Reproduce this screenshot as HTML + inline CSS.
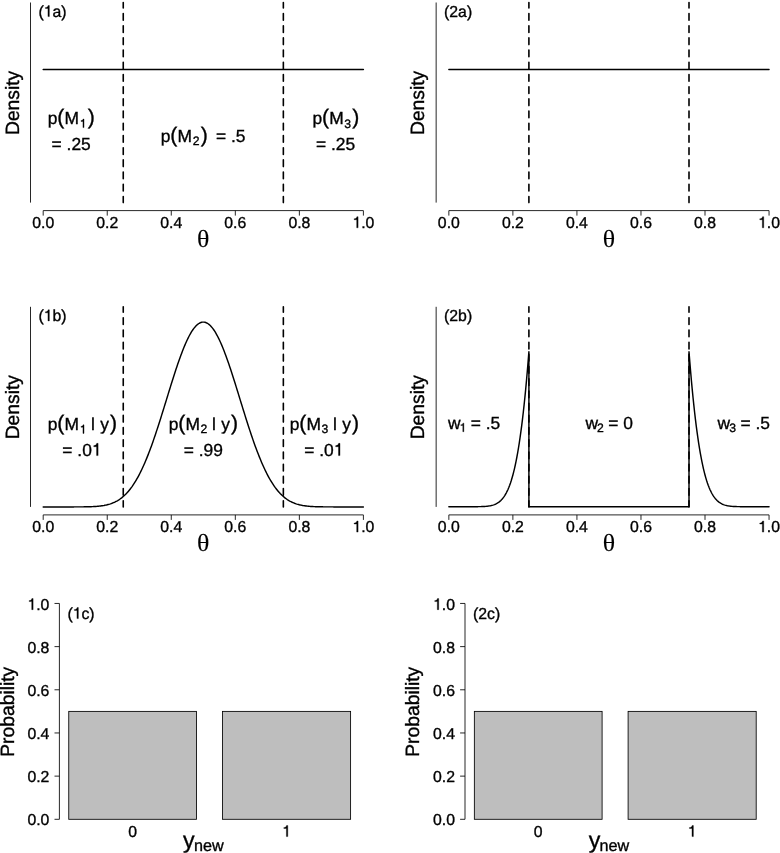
<!DOCTYPE html>
<html><head><meta charset="utf-8"><style>
html,body{margin:0;padding:0;background:#fff;overflow:hidden;}
svg{display:block;will-change:transform;}
text{font-family:"Liberation Sans",sans-serif;fill:#000;stroke:#000;stroke-width:0.35px;text-rendering:geometricPrecision;font-kerning:none;}
text.serif{font-family:"Liberation Serif",serif;stroke-width:0.15px;}
</style></head><body>
<svg width="780" height="853" viewBox="0 0 780 853">
<path d="M30.50,2.50L30.50,202.60" stroke="#000" stroke-width="0.85" fill="none"/>
<path d="M43.20,210.60L363.40,210.60" stroke="#000" stroke-width="0.85" fill="none"/>
<path d="M43.20,210.60L43.20,215.60" stroke="#000" stroke-width="0.85" fill="none"/>
<text x="32.22" y="227.80" font-size="15.8" xml:space="preserve">0.0</text>
<path d="M107.24,210.60L107.24,215.60" stroke="#000" stroke-width="0.85" fill="none"/>
<text x="96.26" y="227.80" font-size="15.8" xml:space="preserve">0.2</text>
<path d="M171.28,210.60L171.28,215.60" stroke="#000" stroke-width="0.85" fill="none"/>
<text x="160.30" y="227.80" font-size="15.8" xml:space="preserve">0.4</text>
<path d="M235.32,210.60L235.32,215.60" stroke="#000" stroke-width="0.85" fill="none"/>
<text x="224.34" y="227.80" font-size="15.8" xml:space="preserve">0.6</text>
<path d="M299.36,210.60L299.36,215.60" stroke="#000" stroke-width="0.85" fill="none"/>
<text x="288.38" y="227.80" font-size="15.8" xml:space="preserve">0.8</text>
<path d="M363.40,210.60L363.40,215.60" stroke="#000" stroke-width="0.85" fill="none"/>
<path d="M0.359,0L0.271,0L0.271,0.511L0.109,0.511L0.109,0.573C0.195,0.578 0.262,0.6 0.282,0.703L0.359,0.703Z" stroke="#000" stroke-width="0.0222" transform="translate(352.42,227.80) scale(15.8,-15.8)"/>
<text x="361.21" y="227.80" font-size="15.8" xml:space="preserve">.0</text>
<text x="0" y="0" class="serif" font-size="24.6" text-anchor="middle" transform="translate(203.30,247.00) scale(1.05,1)">θ</text>
<text x="0" y="0" font-size="19.3" text-anchor="middle" transform="translate(18.60,102.90) rotate(-90)">Density</text>
<text x="38.42" y="16.60" font-size="15.8" xml:space="preserve">(</text>
<path d="M0.359,0L0.271,0L0.271,0.511L0.109,0.511L0.109,0.573C0.195,0.578 0.262,0.6 0.282,0.703L0.359,0.703Z" stroke="#000" stroke-width="0.0222" transform="translate(43.68,16.60) scale(15.8,-15.8)"/>
<text x="52.47" y="16.60" font-size="15.8" xml:space="preserve">a)</text>
<path d="M123.25,202.60V2.50" stroke="#000" stroke-width="1.6" stroke-dasharray="6.7 5.5" stroke-dashoffset="0.6" stroke-linecap="round" fill="none"/>
<path d="M283.35,202.60V2.50" stroke="#000" stroke-width="1.6" stroke-dasharray="6.7 5.5" stroke-dashoffset="0.6" stroke-linecap="round" fill="none"/>
<path d="M436.15,2.50L436.15,202.60" stroke="#000" stroke-width="0.85" fill="none"/>
<path d="M448.85,210.60L769.05,210.60" stroke="#000" stroke-width="0.85" fill="none"/>
<path d="M448.85,210.60L448.85,215.60" stroke="#000" stroke-width="0.85" fill="none"/>
<text x="437.87" y="227.80" font-size="15.8" xml:space="preserve">0.0</text>
<path d="M512.89,210.60L512.89,215.60" stroke="#000" stroke-width="0.85" fill="none"/>
<text x="501.91" y="227.80" font-size="15.8" xml:space="preserve">0.2</text>
<path d="M576.93,210.60L576.93,215.60" stroke="#000" stroke-width="0.85" fill="none"/>
<text x="565.95" y="227.80" font-size="15.8" xml:space="preserve">0.4</text>
<path d="M640.97,210.60L640.97,215.60" stroke="#000" stroke-width="0.85" fill="none"/>
<text x="629.99" y="227.80" font-size="15.8" xml:space="preserve">0.6</text>
<path d="M705.01,210.60L705.01,215.60" stroke="#000" stroke-width="0.85" fill="none"/>
<text x="694.03" y="227.80" font-size="15.8" xml:space="preserve">0.8</text>
<path d="M769.05,210.60L769.05,215.60" stroke="#000" stroke-width="0.85" fill="none"/>
<path d="M0.359,0L0.271,0L0.271,0.511L0.109,0.511L0.109,0.573C0.195,0.578 0.262,0.6 0.282,0.703L0.359,0.703Z" stroke="#000" stroke-width="0.0222" transform="translate(758.07,227.80) scale(15.8,-15.8)"/>
<text x="766.86" y="227.80" font-size="15.8" xml:space="preserve">.0</text>
<text x="0" y="0" class="serif" font-size="24.6" text-anchor="middle" transform="translate(608.95,247.00) scale(1.05,1)">θ</text>
<text x="0" y="0" font-size="19.3" text-anchor="middle" transform="translate(424.25,102.90) rotate(-90)">Density</text>
<text x="444.07" y="16.60" font-size="15.8" xml:space="preserve">(2a)</text>
<path d="M528.90,202.60V2.50" stroke="#000" stroke-width="1.6" stroke-dasharray="6.7 5.5" stroke-dashoffset="0.6" stroke-linecap="round" fill="none"/>
<path d="M689.00,202.60V2.50" stroke="#000" stroke-width="1.6" stroke-dasharray="6.7 5.5" stroke-dashoffset="0.6" stroke-linecap="round" fill="none"/>
<path d="M30.50,306.80L30.50,506.90" stroke="#000" stroke-width="0.85" fill="none"/>
<path d="M43.20,514.90L363.40,514.90" stroke="#000" stroke-width="0.85" fill="none"/>
<path d="M43.20,514.90L43.20,519.90" stroke="#000" stroke-width="0.85" fill="none"/>
<text x="32.22" y="532.10" font-size="15.8" xml:space="preserve">0.0</text>
<path d="M107.24,514.90L107.24,519.90" stroke="#000" stroke-width="0.85" fill="none"/>
<text x="96.26" y="532.10" font-size="15.8" xml:space="preserve">0.2</text>
<path d="M171.28,514.90L171.28,519.90" stroke="#000" stroke-width="0.85" fill="none"/>
<text x="160.30" y="532.10" font-size="15.8" xml:space="preserve">0.4</text>
<path d="M235.32,514.90L235.32,519.90" stroke="#000" stroke-width="0.85" fill="none"/>
<text x="224.34" y="532.10" font-size="15.8" xml:space="preserve">0.6</text>
<path d="M299.36,514.90L299.36,519.90" stroke="#000" stroke-width="0.85" fill="none"/>
<text x="288.38" y="532.10" font-size="15.8" xml:space="preserve">0.8</text>
<path d="M363.40,514.90L363.40,519.90" stroke="#000" stroke-width="0.85" fill="none"/>
<path d="M0.359,0L0.271,0L0.271,0.511L0.109,0.511L0.109,0.573C0.195,0.578 0.262,0.6 0.282,0.703L0.359,0.703Z" stroke="#000" stroke-width="0.0222" transform="translate(352.42,532.10) scale(15.8,-15.8)"/>
<text x="361.21" y="532.10" font-size="15.8" xml:space="preserve">.0</text>
<text x="0" y="0" class="serif" font-size="24.6" text-anchor="middle" transform="translate(203.30,551.30) scale(1.05,1)">θ</text>
<text x="0" y="0" font-size="19.3" text-anchor="middle" transform="translate(18.60,407.20) rotate(-90)">Density</text>
<text x="38.42" y="320.90" font-size="15.8" xml:space="preserve">(</text>
<path d="M0.359,0L0.271,0L0.271,0.511L0.109,0.511L0.109,0.573C0.195,0.578 0.262,0.6 0.282,0.703L0.359,0.703Z" stroke="#000" stroke-width="0.0222" transform="translate(43.68,320.90) scale(15.8,-15.8)"/>
<text x="52.47" y="320.90" font-size="15.8" xml:space="preserve">b)</text>
<path d="M123.25,506.90V306.80" stroke="#000" stroke-width="1.6" stroke-dasharray="6.7 5.5" stroke-dashoffset="0.6" stroke-linecap="round" fill="none"/>
<path d="M283.35,506.90V306.80" stroke="#000" stroke-width="1.6" stroke-dasharray="6.7 5.5" stroke-dashoffset="0.6" stroke-linecap="round" fill="none"/>
<path d="M436.15,306.80L436.15,506.90" stroke="#000" stroke-width="0.85" fill="none"/>
<path d="M448.85,514.90L769.05,514.90" stroke="#000" stroke-width="0.85" fill="none"/>
<path d="M448.85,514.90L448.85,519.90" stroke="#000" stroke-width="0.85" fill="none"/>
<text x="437.87" y="532.10" font-size="15.8" xml:space="preserve">0.0</text>
<path d="M512.89,514.90L512.89,519.90" stroke="#000" stroke-width="0.85" fill="none"/>
<text x="501.91" y="532.10" font-size="15.8" xml:space="preserve">0.2</text>
<path d="M576.93,514.90L576.93,519.90" stroke="#000" stroke-width="0.85" fill="none"/>
<text x="565.95" y="532.10" font-size="15.8" xml:space="preserve">0.4</text>
<path d="M640.97,514.90L640.97,519.90" stroke="#000" stroke-width="0.85" fill="none"/>
<text x="629.99" y="532.10" font-size="15.8" xml:space="preserve">0.6</text>
<path d="M705.01,514.90L705.01,519.90" stroke="#000" stroke-width="0.85" fill="none"/>
<text x="694.03" y="532.10" font-size="15.8" xml:space="preserve">0.8</text>
<path d="M769.05,514.90L769.05,519.90" stroke="#000" stroke-width="0.85" fill="none"/>
<path d="M0.359,0L0.271,0L0.271,0.511L0.109,0.511L0.109,0.573C0.195,0.578 0.262,0.6 0.282,0.703L0.359,0.703Z" stroke="#000" stroke-width="0.0222" transform="translate(758.07,532.10) scale(15.8,-15.8)"/>
<text x="766.86" y="532.10" font-size="15.8" xml:space="preserve">.0</text>
<text x="0" y="0" class="serif" font-size="24.6" text-anchor="middle" transform="translate(608.95,551.30) scale(1.05,1)">θ</text>
<text x="0" y="0" font-size="19.3" text-anchor="middle" transform="translate(424.25,407.20) rotate(-90)">Density</text>
<text x="444.07" y="320.90" font-size="15.8" xml:space="preserve">(2b)</text>
<path d="M528.90,506.90V306.80" stroke="#000" stroke-width="1.6" stroke-dasharray="6.7 5.5" stroke-dashoffset="0.6" stroke-linecap="round" fill="none"/>
<path d="M689.00,506.90V306.80" stroke="#000" stroke-width="1.6" stroke-dasharray="6.7 5.5" stroke-dashoffset="0.6" stroke-linecap="round" fill="none"/>
<path d="M59.40,603.45L59.40,819.30" stroke="#000" stroke-width="0.85" fill="none"/>
<path d="M54.50,819.30L59.40,819.30" stroke="#000" stroke-width="0.85" fill="none"/>
<text x="27.44" y="824.80" font-size="15.8" xml:space="preserve">0.0</text>
<path d="M54.50,776.13L59.40,776.13" stroke="#000" stroke-width="0.85" fill="none"/>
<text x="27.44" y="781.77" font-size="15.8" xml:space="preserve">0.2</text>
<path d="M54.50,732.96L59.40,732.96" stroke="#000" stroke-width="0.85" fill="none"/>
<text x="27.44" y="738.74" font-size="15.8" xml:space="preserve">0.4</text>
<path d="M54.50,689.79L59.40,689.79" stroke="#000" stroke-width="0.85" fill="none"/>
<text x="27.44" y="695.71" font-size="15.8" xml:space="preserve">0.6</text>
<path d="M54.50,646.62L59.40,646.62" stroke="#000" stroke-width="0.85" fill="none"/>
<text x="27.44" y="652.68" font-size="15.8" xml:space="preserve">0.8</text>
<path d="M54.50,603.45L59.40,603.45" stroke="#000" stroke-width="0.85" fill="none"/>
<path d="M0.359,0L0.271,0L0.271,0.511L0.109,0.511L0.109,0.573C0.195,0.578 0.262,0.6 0.282,0.703L0.359,0.703Z" stroke="#000" stroke-width="0.0222" transform="translate(27.44,609.65) scale(15.8,-15.8)"/>
<text x="36.22" y="609.65" font-size="15.8" xml:space="preserve">.0</text>
<rect x="68.75" y="711.38" width="127.75" height="107.92" fill="#bebebe" stroke="#000" stroke-width="0.85"/>
<rect x="222.50" y="711.38" width="128.10" height="107.92" fill="#bebebe" stroke="#000" stroke-width="0.85"/>
<text x="128.21" y="836.60" font-size="15.8" xml:space="preserve">0</text>
<path d="M0.359,0L0.271,0L0.271,0.511L0.109,0.511L0.109,0.573C0.195,0.578 0.262,0.6 0.282,0.703L0.359,0.703Z" stroke="#000" stroke-width="0.0222" transform="translate(282.11,836.60) scale(15.8,-15.8)"/>
<text x="183.05" y="848.40" font-size="23.2" xml:space="preserve">y</text>
<text x="193.90" y="851.30" font-size="16.2" xml:space="preserve">new</text>
<text x="0" y="0" font-size="19.3" text-anchor="middle" transform="translate(13.60,711.75) rotate(-90)">Probability</text>
<text x="67.42" y="618.60" font-size="15.8" xml:space="preserve">(</text>
<path d="M0.359,0L0.271,0L0.271,0.511L0.109,0.511L0.109,0.573C0.195,0.578 0.262,0.6 0.282,0.703L0.359,0.703Z" stroke="#000" stroke-width="0.0222" transform="translate(72.68,618.60) scale(15.8,-15.8)"/>
<text x="81.47" y="618.60" font-size="15.8" xml:space="preserve">c)</text>
<path d="M465.00,603.45L465.00,819.30" stroke="#000" stroke-width="0.85" fill="none"/>
<path d="M460.10,819.30L465.00,819.30" stroke="#000" stroke-width="0.85" fill="none"/>
<text x="433.04" y="824.80" font-size="15.8" xml:space="preserve">0.0</text>
<path d="M460.10,776.13L465.00,776.13" stroke="#000" stroke-width="0.85" fill="none"/>
<text x="433.04" y="781.77" font-size="15.8" xml:space="preserve">0.2</text>
<path d="M460.10,732.96L465.00,732.96" stroke="#000" stroke-width="0.85" fill="none"/>
<text x="433.04" y="738.74" font-size="15.8" xml:space="preserve">0.4</text>
<path d="M460.10,689.79L465.00,689.79" stroke="#000" stroke-width="0.85" fill="none"/>
<text x="433.04" y="695.71" font-size="15.8" xml:space="preserve">0.6</text>
<path d="M460.10,646.62L465.00,646.62" stroke="#000" stroke-width="0.85" fill="none"/>
<text x="433.04" y="652.68" font-size="15.8" xml:space="preserve">0.8</text>
<path d="M460.10,603.45L465.00,603.45" stroke="#000" stroke-width="0.85" fill="none"/>
<path d="M0.359,0L0.271,0L0.271,0.511L0.109,0.511L0.109,0.573C0.195,0.578 0.262,0.6 0.282,0.703L0.359,0.703Z" stroke="#000" stroke-width="0.0222" transform="translate(433.04,609.65) scale(15.8,-15.8)"/>
<text x="441.82" y="609.65" font-size="15.8" xml:space="preserve">.0</text>
<rect x="474.35" y="711.38" width="127.75" height="107.92" fill="#bebebe" stroke="#000" stroke-width="0.85"/>
<rect x="628.10" y="711.38" width="128.10" height="107.92" fill="#bebebe" stroke="#000" stroke-width="0.85"/>
<text x="533.81" y="836.60" font-size="15.8" xml:space="preserve">0</text>
<path d="M0.359,0L0.271,0L0.271,0.511L0.109,0.511L0.109,0.573C0.195,0.578 0.262,0.6 0.282,0.703L0.359,0.703Z" stroke="#000" stroke-width="0.0222" transform="translate(687.71,836.60) scale(15.8,-15.8)"/>
<text x="588.65" y="848.40" font-size="23.2" xml:space="preserve">y</text>
<text x="599.50" y="851.30" font-size="16.2" xml:space="preserve">new</text>
<text x="0" y="0" font-size="19.3" text-anchor="middle" transform="translate(419.20,711.75) rotate(-90)">Probability</text>
<text x="473.02" y="618.60" font-size="15.8" xml:space="preserve">(2c)</text>
<path d="M43.20,69.4H363.40" stroke="#000" stroke-width="1.45" stroke-linecap="round" fill="none"/>
<path d="M448.85,69.4H769.05" stroke="#000" stroke-width="1.45" stroke-linecap="round" fill="none"/>
<path d="M43.20,506.90 L44.00,506.90 L44.80,506.90 L45.60,506.90 L46.40,506.90 L47.20,506.90 L48.00,506.90 L48.80,506.90 L49.60,506.90 L50.40,506.90 L51.21,506.90 L52.01,506.90 L52.81,506.90 L53.61,506.90 L54.41,506.90 L55.21,506.90 L56.01,506.90 L56.81,506.90 L57.61,506.90 L58.41,506.90 L59.21,506.90 L60.01,506.90 L60.81,506.90 L61.61,506.90 L62.41,506.90 L63.21,506.90 L64.01,506.90 L64.81,506.90 L65.61,506.90 L66.41,506.90 L67.22,506.90 L68.02,506.90 L68.82,506.90 L69.62,506.90 L70.42,506.90 L71.22,506.90 L72.02,506.90 L72.82,506.90 L73.62,506.90 L74.42,506.89 L75.22,506.89 L76.02,506.89 L76.82,506.89 L77.62,506.89 L78.42,506.88 L79.22,506.88 L80.02,506.88 L80.82,506.87 L81.62,506.87 L82.42,506.86 L83.22,506.85 L84.03,506.84 L84.83,506.83 L85.63,506.82 L86.43,506.81 L87.23,506.79 L88.03,506.78 L88.83,506.76 L89.63,506.73 L90.43,506.71 L91.23,506.68 L92.03,506.65 L92.83,506.61 L93.63,506.57 L94.43,506.53 L95.23,506.48 L96.03,506.42 L96.83,506.36 L97.63,506.29 L98.43,506.22 L99.23,506.14 L100.04,506.05 L100.84,505.95 L101.64,505.84 L102.44,505.72 L103.24,505.60 L104.04,505.46 L104.84,505.30 L105.64,505.14 L106.44,504.96 L107.24,504.77 L108.04,504.56 L108.84,504.34 L109.64,504.10 L110.44,503.84 L111.24,503.56 L112.04,503.27 L112.84,502.95 L113.64,502.61 L114.44,502.25 L115.25,501.86 L116.05,501.45 L116.85,501.02 L117.65,500.56 L118.45,500.07 L119.25,499.55 L120.05,499.00 L120.85,498.42 L121.65,497.81 L122.45,497.17 L123.25,496.49 L124.05,495.78 L124.85,495.04 L125.65,494.25 L126.45,493.43 L127.25,492.57 L128.05,491.67 L128.85,490.73 L129.65,489.75 L130.45,488.73 L131.25,487.67 L132.06,486.56 L132.86,485.41 L133.66,484.22 L134.46,482.98 L135.26,481.69 L136.06,480.36 L136.86,478.99 L137.66,477.56 L138.46,476.09 L139.26,474.58 L140.06,473.02 L140.86,471.41 L141.66,469.75 L142.46,468.05 L143.26,466.30 L144.06,464.51 L144.86,462.67 L145.66,460.78 L146.46,458.85 L147.26,456.88 L148.07,454.86 L148.87,452.80 L149.67,450.70 L150.47,448.56 L151.27,446.38 L152.07,444.16 L152.87,441.91 L153.67,439.62 L154.47,437.29 L155.27,434.94 L156.07,432.55 L156.87,430.13 L157.67,427.69 L158.47,425.22 L159.27,422.72 L160.07,420.21 L160.87,417.68 L161.67,415.12 L162.47,412.56 L163.27,409.98 L164.08,407.39 L164.88,404.79 L165.68,402.19 L166.48,399.59 L167.28,396.98 L168.08,394.38 L168.88,391.78 L169.68,389.19 L170.48,386.61 L171.28,384.04 L172.08,381.49 L172.88,378.96 L173.68,376.44 L174.48,373.96 L175.28,371.50 L176.08,369.07 L176.88,366.67 L177.68,364.31 L178.48,361.99 L179.28,359.71 L180.09,357.48 L180.89,355.29 L181.69,353.15 L182.49,351.06 L183.29,349.03 L184.09,347.05 L184.89,345.14 L185.69,343.28 L186.49,341.49 L187.29,339.77 L188.09,338.12 L188.89,336.53 L189.69,335.03 L190.49,333.59 L191.29,332.24 L192.09,330.96 L192.89,329.76 L193.69,328.65 L194.49,327.61 L195.30,326.67 L196.10,325.81 L196.90,325.04 L197.70,324.35 L198.50,323.76 L199.30,323.25 L200.10,322.84 L200.90,322.52 L201.70,322.28 L202.50,322.15 L203.30,322.10 L204.10,322.15 L204.90,322.28 L205.70,322.52 L206.50,322.84 L207.30,323.25 L208.10,323.76 L208.90,324.35 L209.70,325.04 L210.50,325.81 L211.31,326.67 L212.11,327.61 L212.91,328.65 L213.71,329.76 L214.51,330.96 L215.31,332.24 L216.11,333.59 L216.91,335.03 L217.71,336.53 L218.51,338.12 L219.31,339.77 L220.11,341.49 L220.91,343.28 L221.71,345.14 L222.51,347.05 L223.31,349.03 L224.11,351.06 L224.91,353.15 L225.71,355.29 L226.51,357.48 L227.31,359.71 L228.12,361.99 L228.92,364.31 L229.72,366.67 L230.52,369.07 L231.32,371.50 L232.12,373.96 L232.92,376.44 L233.72,378.96 L234.52,381.49 L235.32,384.04 L236.12,386.61 L236.92,389.19 L237.72,391.78 L238.52,394.38 L239.32,396.98 L240.12,399.59 L240.92,402.19 L241.72,404.79 L242.52,407.39 L243.32,409.98 L244.13,412.56 L244.93,415.12 L245.73,417.68 L246.53,420.21 L247.33,422.72 L248.13,425.22 L248.93,427.69 L249.73,430.13 L250.53,432.55 L251.33,434.94 L252.13,437.29 L252.93,439.62 L253.73,441.91 L254.53,444.16 L255.33,446.38 L256.13,448.56 L256.93,450.70 L257.73,452.80 L258.53,454.86 L259.34,456.88 L260.14,458.85 L260.94,460.78 L261.74,462.67 L262.54,464.51 L263.34,466.30 L264.14,468.05 L264.94,469.75 L265.74,471.41 L266.54,473.02 L267.34,474.58 L268.14,476.09 L268.94,477.56 L269.74,478.99 L270.54,480.36 L271.34,481.69 L272.14,482.98 L272.94,484.22 L273.74,485.41 L274.54,486.56 L275.34,487.67 L276.15,488.73 L276.95,489.75 L277.75,490.73 L278.55,491.67 L279.35,492.57 L280.15,493.43 L280.95,494.25 L281.75,495.04 L282.55,495.78 L283.35,496.49 L284.15,497.17 L284.95,497.81 L285.75,498.42 L286.55,499.00 L287.35,499.55 L288.15,500.07 L288.95,500.56 L289.75,501.02 L290.55,501.45 L291.36,501.86 L292.16,502.25 L292.96,502.61 L293.76,502.95 L294.56,503.27 L295.36,503.56 L296.16,503.84 L296.96,504.10 L297.76,504.34 L298.56,504.56 L299.36,504.77 L300.16,504.96 L300.96,505.14 L301.76,505.30 L302.56,505.46 L303.36,505.60 L304.16,505.72 L304.96,505.84 L305.76,505.95 L306.56,506.05 L307.36,506.14 L308.17,506.22 L308.97,506.29 L309.77,506.36 L310.57,506.42 L311.37,506.48 L312.17,506.53 L312.97,506.57 L313.77,506.61 L314.57,506.65 L315.37,506.68 L316.17,506.71 L316.97,506.73 L317.77,506.76 L318.57,506.78 L319.37,506.79 L320.17,506.81 L320.97,506.82 L321.77,506.83 L322.57,506.84 L323.38,506.85 L324.18,506.86 L324.98,506.87 L325.78,506.87 L326.58,506.88 L327.38,506.88 L328.18,506.88 L328.98,506.89 L329.78,506.89 L330.58,506.89 L331.38,506.89 L332.18,506.89 L332.98,506.90 L333.78,506.90 L334.58,506.90 L335.38,506.90 L336.18,506.90 L336.98,506.90 L337.78,506.90 L338.58,506.90 L339.38,506.90 L340.19,506.90 L340.99,506.90 L341.79,506.90 L342.59,506.90 L343.39,506.90 L344.19,506.90 L344.99,506.90 L345.79,506.90 L346.59,506.90 L347.39,506.90 L348.19,506.90 L348.99,506.90 L349.79,506.90 L350.59,506.90 L351.39,506.90 L352.19,506.90 L352.99,506.90 L353.79,506.90 L354.59,506.90 L355.39,506.90 L356.20,506.90 L357.00,506.90 L357.80,506.90 L358.60,506.90 L359.40,506.90 L360.20,506.90 L361.00,506.90 L361.80,506.90 L362.60,506.90 L363.40,506.90" stroke="#000" stroke-width="1.45" fill="none" stroke-linejoin="round" stroke-linecap="round"/>
<path d="M448.85,506.70 L449.65,506.70 L450.45,506.70 L451.25,506.70 L452.05,506.70 L452.85,506.70 L453.65,506.70 L454.45,506.70 L455.25,506.70 L456.05,506.70 L456.85,506.70 L457.66,506.70 L458.46,506.70 L459.26,506.70 L460.06,506.70 L460.86,506.70 L461.66,506.70 L462.46,506.70 L463.26,506.70 L464.06,506.70 L464.86,506.70 L465.66,506.70 L466.46,506.70 L467.26,506.70 L468.06,506.70 L468.86,506.70 L469.66,506.70 L470.46,506.70 L471.26,506.70 L472.06,506.69 L472.87,506.69 L473.67,506.69 L474.47,506.69 L475.27,506.68 L476.07,506.68 L476.87,506.67 L477.67,506.66 L478.47,506.65 L479.27,506.64 L480.07,506.62 L480.87,506.60 L481.67,506.57 L482.47,506.54 L483.27,506.51 L484.07,506.47 L484.87,506.42 L485.67,506.36 L486.47,506.29 L487.27,506.20 L488.07,506.11 L488.88,505.99 L489.68,505.86 L490.48,505.71 L491.28,505.54 L492.08,505.34 L492.88,505.11 L493.68,504.85 L494.48,504.56 L495.28,504.22 L496.08,503.85 L496.88,503.42 L497.68,502.95 L498.48,502.41 L499.28,501.82 L500.08,501.15 L500.88,500.41 L501.68,499.59 L502.48,498.68 L503.28,497.67 L504.08,496.56 L504.88,495.34 L505.69,494.00 L506.49,492.54 L507.29,490.93 L508.09,489.18 L508.89,487.27 L509.69,485.19 L510.49,482.93 L511.29,480.48 L512.09,477.83 L512.89,474.97 L513.69,471.88 L514.49,468.55 L515.29,464.97 L516.09,461.12 L516.89,456.99 L517.69,452.57 L518.49,447.85 L519.29,442.80 L520.09,437.42 L520.89,431.68 L521.70,425.58 L522.50,419.10 L523.30,412.22 L524.10,404.93 L524.90,397.22 L525.70,389.06 L526.50,380.44 L527.30,371.35 L528.10,361.78 L528.90,351.70 L528.90,506.7 L689.00,506.7 L689.00,351.70 L689.80,361.78 L690.60,371.35 L691.40,380.44 L692.20,389.06 L693.00,397.22 L693.80,404.93 L694.60,412.22 L695.40,419.10 L696.20,425.58 L697.00,431.68 L697.81,437.42 L698.61,442.80 L699.41,447.85 L700.21,452.57 L701.01,456.99 L701.81,461.12 L702.61,464.97 L703.41,468.55 L704.21,471.88 L705.01,474.97 L705.81,477.83 L706.61,480.48 L707.41,482.93 L708.21,485.19 L709.01,487.27 L709.81,489.18 L710.61,490.93 L711.41,492.54 L712.21,494.00 L713.01,495.34 L713.82,496.56 L714.62,497.67 L715.42,498.68 L716.22,499.59 L717.02,500.41 L717.82,501.15 L718.62,501.82 L719.42,502.41 L720.22,502.95 L721.02,503.42 L721.82,503.85 L722.62,504.22 L723.42,504.56 L724.22,504.85 L725.02,505.11 L725.82,505.34 L726.62,505.54 L727.42,505.71 L728.22,505.86 L729.02,505.99 L729.83,506.11 L730.63,506.20 L731.43,506.29 L732.23,506.36 L733.03,506.42 L733.83,506.47 L734.63,506.51 L735.43,506.54 L736.23,506.57 L737.03,506.60 L737.83,506.62 L738.63,506.64 L739.43,506.65 L740.23,506.66 L741.03,506.67 L741.83,506.68 L742.63,506.68 L743.43,506.69 L744.23,506.69 L745.03,506.69 L745.84,506.69 L746.64,506.70 L747.44,506.70 L748.24,506.70 L749.04,506.70 L749.84,506.70 L750.64,506.70 L751.44,506.70 L752.24,506.70 L753.04,506.70 L753.84,506.70 L754.64,506.70 L755.44,506.70 L756.24,506.70 L757.04,506.70 L757.84,506.70 L758.64,506.70 L759.44,506.70 L760.24,506.70 L761.04,506.70 L761.85,506.70 L762.65,506.70 L763.45,506.70 L764.25,506.70 L765.05,506.70 L765.85,506.70 L766.65,506.70 L767.45,506.70 L768.25,506.70 L769.05,506.70" stroke="#000" stroke-width="1.45" fill="none" stroke-linejoin="round" stroke-linecap="round"/>
<text x="47.73" y="123.90" font-size="17.4" xml:space="preserve">p</text>
<text x="57.33" y="123.90" font-size="21.2" xml:space="preserve">(</text>
<text x="64.56" y="123.90" font-size="17.4" xml:space="preserve">M</text>
<path d="M0.359,0L0.271,0L0.271,0.511L0.109,0.511L0.109,0.573C0.195,0.578 0.262,0.6 0.282,0.703L0.359,0.703Z" stroke="#000" stroke-width="0.0287" transform="translate(79.65,127.60) scale(12.18,-12.18)"/>
<text x="87.63" y="123.90" font-size="21.2" xml:space="preserve">)</text>
<text x="51.61" y="149.50" font-size="17.4" xml:space="preserve">= .25</text>
<text x="312.38" y="123.90" font-size="17.4" xml:space="preserve">p</text>
<text x="321.98" y="123.90" font-size="21.2" xml:space="preserve">(</text>
<text x="329.21" y="123.90" font-size="17.4" xml:space="preserve">M</text>
<text x="344.30" y="127.60" font-size="12.18" xml:space="preserve">3</text>
<text x="352.28" y="123.90" font-size="21.2" xml:space="preserve">)</text>
<text x="315.91" y="149.50" font-size="17.4" xml:space="preserve">= .25</text>
<text x="160.73" y="141.55" font-size="17.4" xml:space="preserve">p</text>
<text x="170.33" y="141.55" font-size="21.2" xml:space="preserve">(</text>
<text x="177.56" y="141.55" font-size="17.4" xml:space="preserve">M</text>
<text x="192.65" y="145.25" font-size="12.18" xml:space="preserve">2</text>
<text x="200.63" y="141.55" font-size="21.2" xml:space="preserve">)</text>
<text x="215.99" y="141.55" font-size="17.4" xml:space="preserve">= .5</text>
<text x="47.73" y="429.70" font-size="17.4" xml:space="preserve">p</text>
<text x="57.33" y="429.70" font-size="21.2" xml:space="preserve">(</text>
<text x="64.56" y="429.70" font-size="17.4" xml:space="preserve">M</text>
<path d="M0.359,0L0.271,0L0.271,0.511L0.109,0.511L0.109,0.573C0.195,0.578 0.262,0.6 0.282,0.703L0.359,0.703Z" stroke="#000" stroke-width="0.0287" transform="translate(79.65,433.40) scale(12.18,-12.18)"/>
<text x="91.03" y="429.70" font-size="17.4" xml:space="preserve">l</text>
<text x="100.36" y="429.70" font-size="17.4" xml:space="preserve">y</text>
<text x="109.96" y="429.70" font-size="21.2" xml:space="preserve">)</text>
<text x="62.35" y="455.60" font-size="17.4" xml:space="preserve">= .0</text>
<path d="M0.359,0L0.271,0L0.271,0.511L0.109,0.511L0.109,0.573C0.195,0.578 0.262,0.6 0.282,0.703L0.359,0.703Z" stroke="#000" stroke-width="0.0201" transform="translate(91.85,455.60) scale(17.4,-17.4)"/>
<text x="168.68" y="429.70" font-size="17.4" xml:space="preserve">p</text>
<text x="178.28" y="429.70" font-size="21.2" xml:space="preserve">(</text>
<text x="185.51" y="429.70" font-size="17.4" xml:space="preserve">M</text>
<text x="200.60" y="433.40" font-size="12.18" xml:space="preserve">2</text>
<text x="211.98" y="429.70" font-size="17.4" xml:space="preserve">l</text>
<text x="221.31" y="429.70" font-size="17.4" xml:space="preserve">y</text>
<text x="230.91" y="429.70" font-size="21.2" xml:space="preserve">)</text>
<text x="183.66" y="455.60" font-size="17.4" xml:space="preserve">= .99</text>
<text x="289.68" y="429.70" font-size="17.4" xml:space="preserve">p</text>
<text x="299.28" y="429.70" font-size="21.2" xml:space="preserve">(</text>
<text x="306.51" y="429.70" font-size="17.4" xml:space="preserve">M</text>
<text x="321.60" y="433.40" font-size="12.18" xml:space="preserve">3</text>
<text x="332.98" y="429.70" font-size="17.4" xml:space="preserve">l</text>
<text x="342.31" y="429.70" font-size="17.4" xml:space="preserve">y</text>
<text x="351.91" y="429.70" font-size="21.2" xml:space="preserve">)</text>
<text x="304.26" y="455.60" font-size="17.4" xml:space="preserve">= .0</text>
<path d="M0.359,0L0.271,0L0.271,0.511L0.109,0.511L0.109,0.573C0.195,0.578 0.262,0.6 0.282,0.703L0.359,0.703Z" stroke="#000" stroke-width="0.0201" transform="translate(333.76,455.60) scale(17.4,-17.4)"/>
<text x="447.90" y="428.60" font-size="17.4" xml:space="preserve">w</text>
<path d="M0.359,0L0.271,0L0.271,0.511L0.109,0.511L0.109,0.573C0.195,0.578 0.262,0.6 0.282,0.703L0.359,0.703Z" stroke="#000" stroke-width="0.0287" transform="translate(459.50,431.70) scale(12.18,-12.18)"/>
<text x="470.85" y="428.60" font-size="17.4" xml:space="preserve">=</text>
<text x="485.70" y="428.60" font-size="17.4" xml:space="preserve">.5</text>
<text x="585.40" y="428.60" font-size="17.4" xml:space="preserve">w</text>
<text x="597.00" y="431.70" font-size="12.18" xml:space="preserve">2</text>
<text x="608.35" y="428.60" font-size="17.4" xml:space="preserve">=</text>
<text x="623.20" y="428.60" font-size="17.4" xml:space="preserve">0</text>
<text x="717.60" y="428.60" font-size="17.4" xml:space="preserve">w</text>
<text x="729.20" y="431.70" font-size="12.18" xml:space="preserve">3</text>
<text x="740.55" y="428.60" font-size="17.4" xml:space="preserve">=</text>
<text x="755.40" y="428.60" font-size="17.4" xml:space="preserve">.5</text>
</svg>
</body></html>
